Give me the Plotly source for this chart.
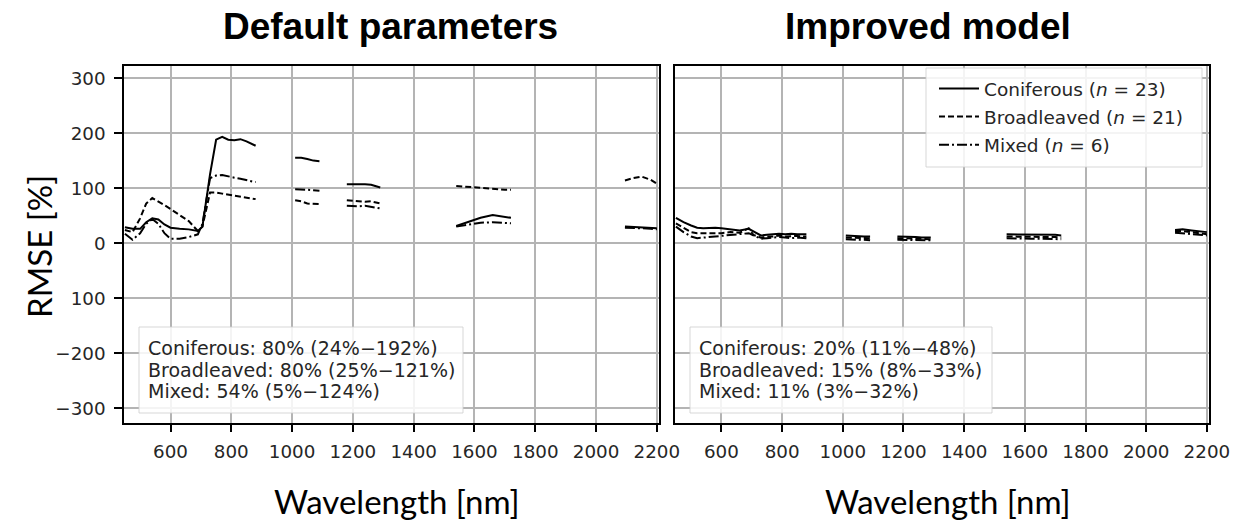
import plotly.graph_objects as go

# ---------------- data ----------------
band1 = [450, 475, 500, 520, 540, 560, 580, 600, 630, 660, 690, 705, 730, 750, 770, 790, 810, 830, 850, 870, 880]
band2 = [1010, 1030, 1050, 1070, 1090]
band3 = [1180, 1200, 1220, 1240, 1260, 1290]
band4 = [1540, 1580, 1620, 1660, 1700, 1720]
band5 = [2095, 2120, 2150, 2180, 2200]
wavelength = band1 + [None] + band2 + [None] + band3 + [None] + band4 + [None] + band5

# Default parameters (left panel)
def_coniferous = [29, 26, 26, 38, 45, 43, 34, 28, 26, 25, 22, 30, 125, 188, 193, 188, 187, 189, 185, 179, 177,
                  None, 155, 155, 153, 150, 149,
                  None, 107, 107, 108, 107, 106, 101,
                  None, 31, 38, 46, 51, 48, 46,
                  None, 30, 29, 28, 27, 27]
def_broadleaved = [24, 20, 45, 72, 82, 76, 69, 62, 51, 40, 22, 30, 92, 92, 90, 88, 86, 84, 82, 81, 80,
                   None, 78, 76, 72, 71, 71,
                   None, 78, 77, 76, 75, 76, 72,
                   None, 104, 102, 100, 98, 97, 97,
                   None, 114, 118, 121, 115, 108]
def_mixed = [17, 6, 18, 35, 44, 35, 18, 8, 8, 11, 16, 35, 118, 123, 124, 121, 119, 117, 114, 112, 111,
             None, 98, 98, 97, 96, 95,
             None, 68, 67, 67, 68, 66, 63,
             None, 30, 33, 37, 38, 37, 36,
             None, 28, 27, 27, 26, 25]

# Improved model (right panel)
imp_coniferous = [46, 38, 32, 28, 27, 28, 28, 27, 25, 23, 26, 22, 14, 15, 16, 17, 16, 17, 16, 16, 16,
                  None, 14, 13, 13, 12, 12,
                  None, 12, 12, 11, 11, 10, 10,
                  None, 16, 16, 15, 15, 15, 14,
                  None, 24, 25, 23, 22, 20]
imp_broadleaved = [36, 28, 20, 18, 18, 19, 18, 18, 20, 19, 27, 15, 10, 12, 12, 14, 12, 13, 13, 12, 12,
                   None, 10, 10, 9, 9, 9,
                   None, 9, 9, 8, 8, 8, 7,
                   None, 12, 12, 11, 11, 11, 10,
                   None, 22, 22, 20, 18, 16]
imp_mixed = [30, 20, 12, 9, 10, 11, 12, 13, 14, 16, 18, 14, 8, 9, 10, 11, 10, 9, 10, 9, 9,
             None, 7, 6, 6, 6, 5,
             None, 6, 6, 5, 6, 5, 5,
             None, 9, 8, 8, 8, 8, 7,
             None, 19, 18, 17, 16, 14]

series_names = ["Coniferous (<i>n</i> = 23)", "Broadleaved (<i>n</i> = 21)", "Mixed (<i>n</i> = 6)"]
x_ticks = [600, 800, 1000, 1200, 1400, 1600, 1800, 2000, 2200]
y_ticks = [-300, -200, -100, 0, 100, 200, 300]
y_ticktext = ["\u2212300", "\u2212200", "100", "0", "100", "200", "300"]
panel_titles = ["Default parameters", "Improved model"]
stats_left = ["Coniferous: 80% (24%\u2212192%)", "Broadleaved: 80% (25%\u2212121%)", "Mixed: 54% (5%\u2212124%)"]
stats_right = ["Coniferous: 20% (11%\u221248%)", "Broadleaved: 15% (8%\u221233%)", "Mixed: 11% (3%\u221232%)"]

# ---------------- figure ----------------
W, H = 1250, 523
px = lambda v: v / W
py = lambda v: 1 - v / H
dashes = ["solid", "6px,3px", "10px,3px,2px,3px"]
fig = go.Figure()

for i, (vals, name) in enumerate(zip([def_coniferous, def_broadleaved, def_mixed], series_names)):
    fig.add_trace(go.Scatter(x=wavelength, y=vals, mode="lines", name=name, showlegend=False,
                             line=dict(color="black", width=2, dash=dashes[i]),
                             connectgaps=False, xaxis="x", yaxis="y", legendgroup=f"g{i}"))
for i, (vals, name) in enumerate(zip([imp_coniferous, imp_broadleaved, imp_mixed], series_names)):
    fig.add_trace(go.Scatter(x=wavelength, y=vals, mode="lines", name=name, showlegend=True,
                             line=dict(color="black", width=2, dash=dashes[i]),
                             connectgaps=False, xaxis="x2", yaxis="y2", legendgroup=f"g{i}"))

tickfont = dict(family="DejaVu Sans", size=18.3, color="#262626")
xr = [447, 2207]
yr = [-327, 322]
common_x = dict(range=xr, tickvals=x_ticks, showgrid=True, gridcolor="#b4b4b4", gridwidth=1.5,
                showline=True, linecolor="black", linewidth=1.5, mirror=True,
                ticks="outside", ticklen=7, tickwidth=1.5, tickcolor="black",
                tickfont=tickfont, zeroline=False, automargin=False, ticklabelstandoff=4)
common_y = dict(range=yr, tickvals=y_ticks, showgrid=True, gridcolor="#b4b4b4", gridwidth=1.5,
                showline=True, linecolor="black", linewidth=1.5, mirror=True,
                zeroline=False, domain=[py(423), py(66)], automargin=False)

fig.update_layout(
    width=W, height=H,
    margin=dict(l=0, r=0, t=0, b=0, autoexpand=False),
    paper_bgcolor="white", plot_bgcolor="white",
    xaxis=dict(domain=[px(124), px(659)], anchor="y", **common_x),
    yaxis=dict(anchor="x", ticktext=y_ticktext, ticks="outside", ticklen=8, tickwidth=1.5,
               tickcolor="black", tickfont=tickfont, ticklabelstandoff=5, **common_y),
    xaxis2=dict(domain=[px(675), px(1209)], anchor="y2", **common_x),
    yaxis2=dict(anchor="x2", showticklabels=False, ticks="", **common_y),
    legend=dict(x=px(934), y=py(70), xanchor="left", yanchor="top",
                bgcolor="rgba(0,0,0,0)", borderwidth=0, itemwidth=40,
                font=dict(family="DejaVu Sans", size=18.5, color="#262626"),
                tracegroupgap=1),
    showlegend=True,
)

box_style = dict(type="rect", xref="paper", yref="paper", layer="above",
                 fillcolor="rgba(255,255,255,0.85)", line=dict(color="rgba(205,205,205,0.8)", width=1))
# legend box
fig.add_shape(x0=px(926), x1=px(1202), y0=py(167), y1=py(68), **box_style)
# stats boxes
fig.add_shape(x0=px(139), x1=px(463), y0=py(413), y1=py(327), **box_style)
fig.add_shape(x0=px(690), x1=px(992), y0=py(413), y1=py(327), **box_style)

ann_font = dict(family="DejaVu Sans", size=19, color="#262626")
for lines, x0 in [(stats_left, 146), (stats_right, 697)]:
    for k, line in enumerate(lines):
        fig.add_annotation(text=line, xref="paper", yref="paper", x=px(x0), y=py(348 + 21.5 * k),
                           xanchor="left", yanchor="middle", align="left",
                           showarrow=False, font=ann_font)

title_font = dict(family="Liberation Sans", size=37, color="black")
for t, cx in zip(panel_titles, [390, 928]):
    fig.add_annotation(text=f"<b>{t}</b>", xref="paper", yref="paper", x=px(cx), y=py(26),
                       xanchor="center", yanchor="middle", showarrow=False, font=title_font)

label_font = dict(family="Lato", size=33, color="black")
for cx in [397, 948]:
    fig.add_annotation(text="Wavelength [nm]", xref="paper", yref="paper", x=px(cx), y=py(501),
                       xanchor="center", yanchor="middle", showarrow=False, font=label_font)
fig.add_annotation(text="RMSE [%]", xref="paper", yref="paper", x=px(39), y=py(247),
                   xanchor="center", yanchor="middle", showarrow=False, font=label_font, textangle=-90)

fig.write_html("out.html")
